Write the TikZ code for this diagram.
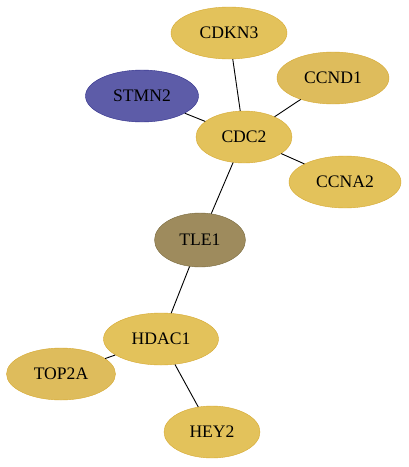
\documentclass[tikz,border=0pt]{standalone}
\usepackage{fontspec}
\setmainfont{Liberation Serif}
\usetikzlibrary{shapes.geometric}
\definecolor{goldfill}{HTML}{E3C25B}
\definecolor{darkgold}{HTML}{DEBC5C}
\definecolor{goldline}{HTML}{D6A931}
\definecolor{bluefill}{HTML}{5D5CA8}
\definecolor{blueline}{HTML}{2F2E8A}
\definecolor{olivefill}{HTML}{9E8B5D}
\definecolor{oliveline}{HTML}{7A6A3E}
\begin{document}
\begin{tikzpicture}[x=1pt, y=-1pt,
    every node/.style={font=\fontsize{17.6}{20}\selectfont},
    gene/.style={ellipse, draw=goldline, fill=goldfill, inner sep=0pt, minimum height=52pt}]
    \useasboundingbox (0,0) rectangle (408,467);

    % Genes around CDC2
    \foreach \name/\x/\y/\w/\col in {CDKN3/229/33/116/goldfill, CCND1/333/78/112/darkgold,
                                     CDC2/244/137/96/goldfill, CCNA2/345/182/112/goldfill,
                                     HDAC1/161/339/115/goldfill, TOP2A/61/374/109/darkgold,
                                     HEY2/212/432/96/goldfill} {
        \node[gene, fill=\col, minimum width=\w pt] (\name) at (\x, \y) {\name};
    }
    \node[gene, draw=blueline, fill=bluefill, minimum width=113pt] (STMN2) at (142, 96) {STMN2};
    \node[gene, draw=oliveline, fill=olivefill, minimum width=91pt, minimum height=54pt] (TLE1) at (200, 240) {TLE1};

    % Edges
    \foreach \a/\b in {STMN2/CDC2, CDKN3/CDC2, CCND1/CDC2, CCNA2/CDC2,
                       CDC2/TLE1, TLE1/HDAC1, HDAC1/TOP2A, HDAC1/HEY2} {
        \draw[line width=0.9pt] (\a) -- (\b);
    }
\end{tikzpicture}
\end{document}
